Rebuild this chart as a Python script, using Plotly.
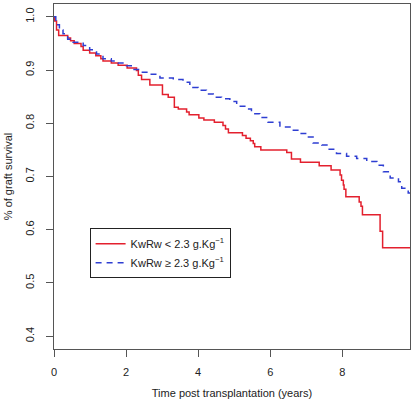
import plotly.graph_objects as go

# Kaplan-Meier step data
red_t = [0, 0.02, 0.07, 0.13, 0.38, 0.46, 0.56, 0.75, 0.81, 0.99, 1.16, 1.30, 1.36, 1.59, 1.78,
         2.03, 2.29, 2.34, 2.43, 2.66, 3.01, 3.17, 3.34, 3.45, 3.68, 3.75, 4.02, 4.16, 4.45,
         4.69, 4.76, 4.84, 5.23, 5.33, 5.45, 5.53, 5.57, 5.74, 6.46, 6.59, 6.84, 7.36, 7.69,
         7.94, 7.98, 8.03, 8.05, 8.10, 8.47, 8.52, 8.56, 9.05, 9.12, 9.88]
red_s = [1.0, 0.992, 0.975, 0.965, 0.960, 0.955, 0.950, 0.944, 0.937, 0.932, 0.927, 0.921, 0.917, 0.913, 0.909,
         0.904, 0.899, 0.890, 0.882, 0.872, 0.854, 0.849, 0.830, 0.827, 0.821, 0.816, 0.810, 0.806, 0.802,
         0.796, 0.789, 0.782, 0.777, 0.772, 0.767, 0.762, 0.756, 0.750, 0.745, 0.733, 0.727, 0.720, 0.712,
         0.703, 0.693, 0.684, 0.676, 0.662, 0.652, 0.644, 0.628, 0.597, 0.566, 0.566]

blue_t = [0, 0.05, 0.15, 0.25, 0.38, 0.53, 0.81, 0.99, 1.18, 1.36, 1.59, 1.78, 2.01, 2.19, 2.38,
          2.66, 2.94, 3.31, 3.58, 3.77, 4.00, 4.23, 4.42, 4.65, 4.88, 5.07, 5.34, 5.48, 5.71,
          5.94, 6.27, 6.55, 6.83, 7.01, 7.19, 7.43, 7.61, 7.84, 8.12, 8.40, 8.68, 8.96, 9.14,
          9.33, 9.56, 9.65, 9.83, 9.88]
blue_s = [1.0, 0.985, 0.975, 0.968, 0.958, 0.952, 0.946, 0.938, 0.930, 0.921, 0.917, 0.913, 0.908, 0.901, 0.896,
          0.892, 0.885, 0.882, 0.877, 0.867, 0.862, 0.855, 0.849, 0.846, 0.841, 0.832, 0.827, 0.818, 0.811,
          0.802, 0.793, 0.787, 0.781, 0.774, 0.763, 0.759, 0.751, 0.743, 0.738, 0.734, 0.728, 0.721, 0.709,
          0.697, 0.690, 0.678, 0.669, 0.669]

x_ticks = [0, 2, 4, 6, 8]
y_ticks = [0.4, 0.5, 0.6, 0.7, 0.8, 0.9, 1.0]
y_tick_text = ["0.4", "0.5", "0.6", "0.7", "0.8", "0.9", "1.0"]

label_low = "KwRw < 2.3 g.Kg<sup>\u22121</sup>"
label_high = "KwRw \u2265 2.3 g.Kg<sup>\u22121</sup>"

FONT = "Liberation Sans, Arial, Helvetica, sans-serif"

fig = go.Figure()
fig.add_trace(go.Scatter(x=red_t, y=red_s, mode="lines", line_shape="hv",
                         line=dict(color="#E3202E", width=1.5), name=label_low))
fig.add_trace(go.Scatter(x=blue_t, y=blue_s, mode="lines", line_shape="hv",
                         line=dict(color="#2E3ED2", width=1.5, dash="6px,5px"), name=label_high))

axis_common = dict(showline=True, linecolor="#555555", linewidth=1, mirror=True,
                   ticks="outside", ticklen=7, tickcolor="#555555", tickwidth=1,
                   showgrid=False, zeroline=False, automargin=False,
                   tickfont=dict(family=FONT, size=11, color="#222222"))

fig.update_layout(
    width=412, height=404,
    margin=dict(l=54, r=2, t=4, b=55),
    paper_bgcolor="white", plot_bgcolor="white",
    font=dict(family=FONT, size=11, color="#222222"),
    showlegend=True,
    legend=dict(x=0.1, y=0.35, xanchor="left", yanchor="top",
                bordercolor="#222222", borderwidth=1, bgcolor="white",
                font=dict(family=FONT, size=11, color="#222222"),
                tracegroupgap=0),
    xaxis=dict(range=[0, 9.88], tickvals=x_ticks, ticklabelstandoff=6,
               title=dict(text="Time post transplantation (years)", standoff=12,
                          font=dict(family=FONT, size=11, color="#222222")),
               **axis_common),
    yaxis=dict(range=[0.376, 1.024], tickvals=y_ticks, ticktext=y_tick_text,
               tickangle=-90, ticklabelstandoff=8,
               title=dict(text="% of graft survival", standoff=8,
                          font=dict(family=FONT, size=11, color="#222222")),
               **axis_common),
)

fig.write_html("out.html", config={"displayModeBar": False},
               post_script="document.body.style.margin='0';document.body.style.overflow='hidden';")
